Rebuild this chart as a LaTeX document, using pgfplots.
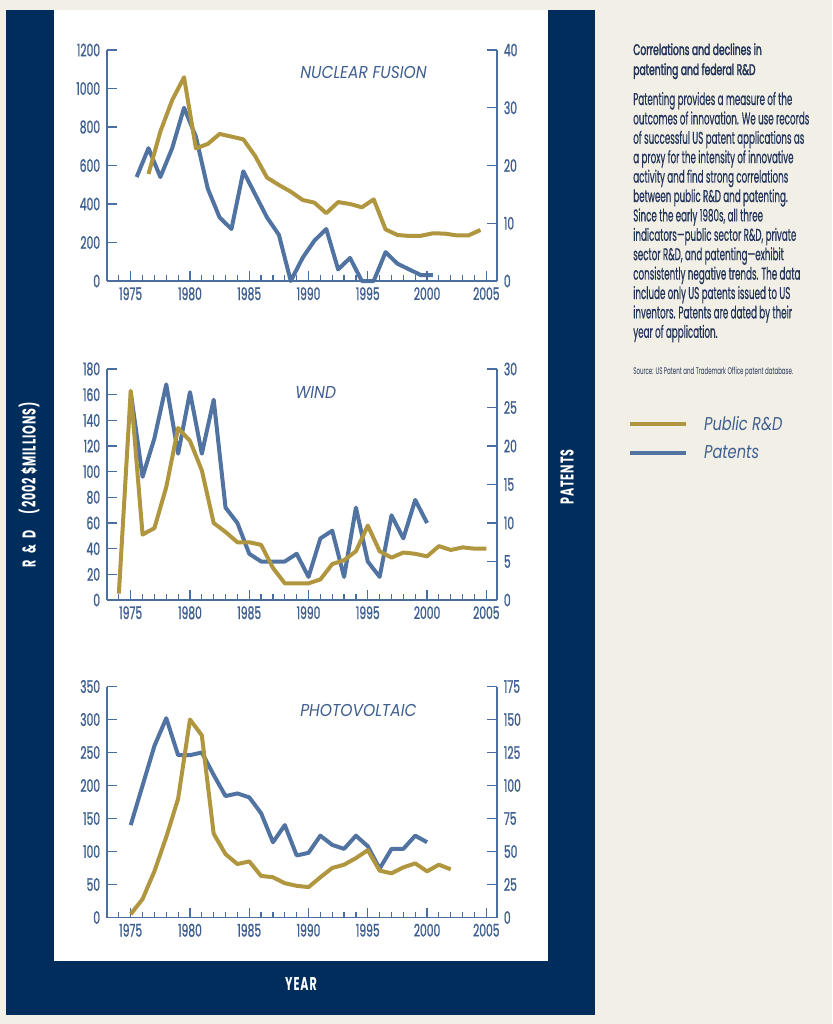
\documentclass[border=0pt]{standalone}
\usepackage{pgfplots}
\pgfplotsset{compat=1.18}
\usepackage{fontspec}
\setmainfont{Poppins}
\newfontfamily\tickfont{Poppins}[FakeStretch=0.62,FakeBold=1]
\newfontfamily\bodyfont{Poppins}[FakeStretch=0.512,FakeBold=0.4]
\newfontfamily\srcfont{Poppins}[FakeStretch=0.575]
\newfontfamily\headfont{Poppins}[FakeStretch=0.6,FakeBold=2]
\newfontfamily\titfont{Poppins}[FakeStretch=0.9]
\newfontfamily\legfont{Poppins}[FakeStretch=0.79]
\newfontfamily\labfont{Poppins}[FakeStretch=0.6,LetterSpace=5]
\definecolor{navy}{HTML}{002D5B}
\definecolor{beige}{HTML}{F2EFE7}
\definecolor{axcol}{HTML}{4A6E9E}
\definecolor{labcol}{HTML}{3E5F90}
\definecolor{gold}{HTML}{B0963E}
\definecolor{pblue}{HTML}{5073A2}
\definecolor{txtcol}{HTML}{223459}
\pgfplotsset{
  base/.style={
    scale only axis, width=292.5pt, height=173.25pt,
    xmin=1973, xmax=2005.9, clip=false,
    tick align=inside, major tick length=7.5pt, minor tick length=4.5pt,
    axis line style={axcol, line width=0.9pt},
    major tick style={axcol, line width=0.9pt},
    minor tick style={axcol, line width=0.9pt},
    xtick={1975,1980,...,2005}, minor xtick={1974,...,2005},
    /pgf/number format/assume math mode=true,
    /pgf/number format/1000 sep={},
    tick label style={font=\tickfont\fontsize{13}{13}\selectfont, text=labcol, inner sep=0pt},
    xticklabel shift=4.5pt, yticklabel shift=5pt,
  },
  rd/.style={gold, line width=3pt, line join=round},
  pt/.style={pblue, line width=3pt, line join=round},
}
\begin{document}
\begin{tikzpicture}
\begin{scope}[x=0.75pt,y=-0.75pt]
\fill[beige] (0,0) rectangle (832,1024);
\fill[navy] (6,10) rectangle (595,1015);
\fill[white] (54,10) rectangle (548,961);
\end{scope}

% ---------- NUCLEAR FUSION ----------
\begin{axis}[base, at={(80.25pt,-210.75pt)}, anchor=south west,
  ymin=0, ymax=40, ytick={0,10,...,40}, axis y line*=right, axis x line=none]
\addplot[pt] coordinates {(1975.5,18) (1976.5,23) (1977.5,18) (1978.5,23) (1979.5,30) (1980.5,25) (1981.5,16) (1982.5,11) (1983.5,9) (1984.5,19) (1985.5,15) (1986.5,11) (1987.5,8) (1988.5,0) (1989.5,4) (1990.5,7) (1991.5,9) (1992.5,2) (1993.5,4) (1994.5,0) (1995.5,0) (1996.5,5) (1997.5,3) (1998.5,2) (1999.5,1) (2000.5,1)};
\end{axis}
\begin{axis}[base, at={(80.25pt,-210.75pt)}, anchor=south west,
  ymin=0, ymax=1200, ytick={0,200,...,1200}, axis y line*=left, axis x line*=bottom]
\addplot[rd] coordinates {(1976.5,556) (1977.5,776) (1978.5,940) (1979.5,1058) (1980.5,689) (1981.5,712) (1982.5,764) (1983.5,750) (1984.5,736) (1985.5,649) (1986.5,537) (1987.5,499) (1988.5,464) (1989.5,421) (1990.5,407) (1991.5,352) (1992.5,410) (1993.5,400) (1994.5,383) (1995.5,424) (1996.5,268) (1997.5,239) (1998.5,234) (1999.5,235) (2000.5,248) (2001.5,246) (2002.5,237) (2003.5,237) (2004.5,265)};
\end{axis}

% ---------- WIND ----------
\begin{axis}[base, at={(80.25pt,-450pt)}, anchor=south west,
  ymin=0, ymax=30, ytick={0,5,...,30}, axis y line*=right, axis x line=none]
\addplot[pt] coordinates {(1975,27) (1976,16) (1977,21) (1978,28) (1979,19) (1980,27) (1981,19) (1982,26) (1983,12) (1984,10) (1985,6) (1986,5) (1987,5) (1988,5) (1989,6) (1990,3) (1991,8) (1992,9) (1993,3) (1994,12) (1995,5) (1996,3) (1997,11) (1998,8) (1999,13) (2000,10)};
\end{axis}
\begin{axis}[base, at={(80.25pt,-450pt)}, anchor=south west,
  ymin=0, ymax=180, ytick={0,20,...,180}, axis y line*=left, axis x line*=bottom,
  legend style={at={(1.336,0.797)}, anchor=north west, draw=none, fill=none,
    inner sep=0pt, outer sep=0pt, row sep=10pt,
    font=\legfont\itshape\fontsize{13.9}{15}\selectfont, text=labcol,
    /tikz/every odd column/.append style={column sep=12pt},
    nodes={inner sep=0pt}},
  legend cell align=left,
  legend image code/.code={\draw[#1] (0pt,0pt) -- (42pt,0pt);}]
\addplot[rd] coordinates {(1974,5) (1975,163) (1976,51) (1977,56) (1978,88) (1979,134) (1980,124) (1981,101) (1982,60) (1983,53) (1984,45) (1985,45) (1986,43) (1987,25) (1988,13) (1989,13) (1990,13) (1991,16) (1992,28) (1993,31) (1994,38) (1995,58) (1996,38) (1997,33) (1998,37) (1999,36) (2000,34) (2001,42) (2002,39) (2003,41) (2004,40) (2005,40)};
\addlegendentry{Public R\&D}
\addlegendimage{pt}
\addlegendentry{Patents}
\end{axis}

% ---------- PHOTOVOLTAIC ----------
\begin{axis}[base, at={(80.25pt,-688.125pt)}, anchor=south west,
  ymin=0, ymax=175, ytick={0,25,...,175}, axis y line*=right, axis x line=none]
\addplot[pt] coordinates {(1975,70) (1976,100) (1977,130) (1978,151) (1979,123) (1980,123) (1981,125) (1982,108) (1983,92) (1984,94) (1985,91) (1986,79) (1987,57) (1988,70) (1989,47) (1990,49) (1991,62) (1992,55) (1993,52) (1994,62) (1995,54) (1996,37) (1997,52) (1998,52) (1999,62) (2000,57)};
\end{axis}
\begin{axis}[base, at={(80.25pt,-688.125pt)}, anchor=south west,
  ymin=0, ymax=350, ytick={0,50,...,350}, axis y line*=left, axis x line*=bottom]
\addplot[rd] coordinates {(1975,5) (1976,28) (1977,70) (1978,122) (1979,180) (1980,300) (1981,276) (1982,127) (1983,96) (1984,81) (1985,85) (1986,63) (1987,61) (1988,52) (1989,48) (1990,46) (1991,61) (1992,75) (1993,80) (1994,90) (1995,102) (1996,71) (1997,67) (1998,76) (1999,82) (2000,70) (2001,80) (2002,73)};
\end{axis}

\begin{scope}[x=0.75pt,y=-0.75pt]
% chart titles
\begin{scope}[every node/.style={anchor=base west, inner sep=0pt, text=labcol, font=\titfont\itshape\fontsize{12.9}{14}\selectfont}]
\node at (300,79) {NUCLEAR FUSION};
\node at (295,398) {WIND};
\node at (300,716) {PHOTOVOLTAIC};
\end{scope}
% frame labels
\node[rotate=90, text=white, font=\labfont\bfseries\fontsize{13.9}{14}\selectfont, inner sep=0pt] at (29,485) {R\hspace{5pt}\&\hspace{5pt}D\hspace{12pt}(2002 \$MILLIONS)};
\node[rotate=90, text=white, font=\labfont\bfseries\fontsize{13.9}{14}\selectfont, inner sep=0pt] at (567,477) {PATENTS};
\node[text=white, font=\labfont\bfseries\fontsize{13.9}{14}\selectfont, inner sep=0pt] at (301,983.5) {YEAR};
% side text
\begin{scope}[every node/.style={anchor=base west, inner sep=0pt, text=txtcol, font=\bodyfont\fontsize{12.8}{14}\selectfont}]
\node[font=\headfont\fontsize{11.5}{14}\selectfont] at (633,55) {Correlations and declines in};
\node[font=\headfont\fontsize{11.5}{14}\selectfont] at (633,75) {patenting and federal R\&D};
\node at (633,105) {Patenting provides a measure of the};
\node at (633,124.4) {outcomes of innovation. We use records};
\node at (633,143.8) {of successful US patent applications as};
\node at (633,163.2) {a proxy for the intensity of innovative};
\node at (633,182.6) {activity and find strong correlations};
\node at (633,202) {between public R\&D and patenting.};
\node at (633,221.4) {Since the early 1980s, all three};
\node at (633,240.8) {indicators—public sector R\&D, private};
\node at (633,260.2) {sector R\&D, and patenting—exhibit};
\node at (633,279.6) {consistently negative trends. The data};
\node at (633,299) {include only US patents issued to US};
\node at (633,318.4) {inventors. Patents are dated by their};
\node at (633,337.8) {year of application.};
\node[font=\srcfont\fontsize{7.2}{8}\selectfont] at (633,374) {Source: US Patent and Trademark Office patent database.};
\end{scope}
\end{scope}
\pgfresetboundingbox
\path[use as bounding box] (0,0) rectangle (624pt,-768pt);
\end{tikzpicture}
\end{document}
